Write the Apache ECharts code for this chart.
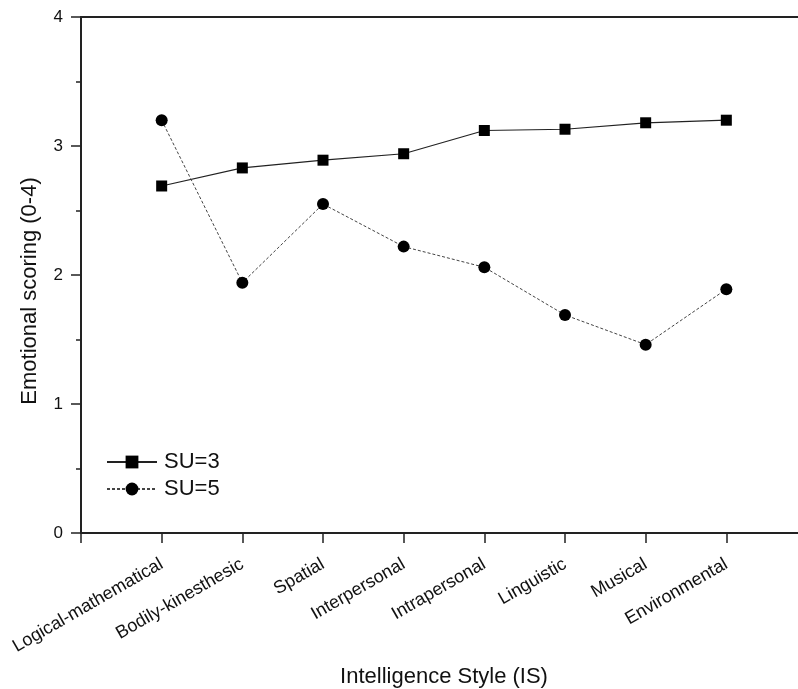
<!DOCTYPE html>
<html>
<head>
<meta charset="utf-8">
<script src="https://cdn.jsdelivr.net/npm/echarts@6/dist/echarts.min.js"></script>
<style>html,body{margin:0;padding:0;background:#fff;}#c{width:798px;height:689px;}</style>
</head>
<body>
<div id="c"></div>
<script>
const categories = ['Logical-mathematical','Bodily-kinesthesic','Spatial','Interpersonal','Intrapersonal','Linguistic','Musical','Environmental'];
const su3 = [2.69, 2.83, 2.89, 2.94, 3.12, 3.13, 3.18, 3.20];
const su5 = [3.20, 1.94, 2.55, 2.22, 2.06, 1.69, 1.46, 1.89];
const yTicks = [0, 1, 2, 3, 4];

const FONT = 'Liberation Sans, Arial, sans-serif';
const chart = echarts.init(document.getElementById('c'), null, {renderer: 'canvas'});
const toPts = arr => arr.map((v, i) => [i + 1, v]);

chart.setOption({
  animation: false,
  backgroundColor: '#fff',
  grid: {left: 81, top: 17, width: 726, height: 516, containLabel: false, outerBoundsMode: 'none'},
  legend: {
    left: 101, top: 446, orient: 'vertical',
    itemWidth: 50, itemHeight: 16, itemGap: 5,
    textStyle: {fontFamily: FONT, fontSize: 22, color: '#111', padding: [0,0,0,2]},
    data: ['SU=3', 'SU=5']
  },
  xAxis: [{
    type: 'value', min: 0, max: 9, interval: 1,
    position: 'bottom',
    axisLine: {lineStyle: {color: '#222', width: 2}},
    axisTick: {show: true, length: 10, lineStyle: {color: '#222', width: 1.5}},
    splitLine: {show: false},
    axisLabel: {
      rotate: 30, margin: 30, fontFamily: FONT, fontSize: 18, color: '#111',
      formatter: v => (v >= 1 && v <= categories.length && Number.isInteger(v)) ? categories[v - 1] : ''
    },
    name: 'Intelligence Style (IS)', nameLocation: 'middle', nameGap: 133,
    nameTextStyle: {fontFamily: FONT, fontSize: 22, color: '#111'}
  }, {
    type: 'value', min: 0, max: 9, position: 'top',
    axisLine: {show: true, lineStyle: {color: '#222', width: 2}},
    axisTick: {show: false}, axisLabel: {show: false}, splitLine: {show: false}
  }],
  yAxis: {
    type: 'value', min: yTicks[0], max: yTicks[yTicks.length - 1], interval: 1,
    axisLine: {show: true, lineStyle: {color: '#222', width: 2}},
    axisTick: {show: true, length: 10, lineStyle: {color: '#222', width: 1.5}},
    minorTick: {show: true, splitNumber: 2, length: 5, lineStyle: {color: '#222', width: 1.5}},
    splitLine: {show: false},
    axisLabel: {margin: 18, fontFamily: FONT, fontSize: 17, color: '#111'},
    name: 'Emotional scoring (0-4)', nameLocation: 'middle', nameGap: 40,
    nameTextStyle: {fontFamily: FONT, fontSize: 22, color: '#111', padding: [0, 32, 0, 0]}
  },
  series: [{
    name: 'SU=3', type: 'line', data: toPts(su3),
    symbol: 'rect', symbolSize: 11,
    itemStyle: {color: '#000'},
    lineStyle: {color: '#222', width: 1.2, type: 'solid'}
  }, {
    name: 'SU=5', type: 'line', data: toPts(su5),
    symbol: 'circle', symbolSize: 12,
    itemStyle: {color: '#000'},
    lineStyle: {color: '#444', width: 1, type: [3, 2]}
  }]
});
</script>
</body>
</html>
